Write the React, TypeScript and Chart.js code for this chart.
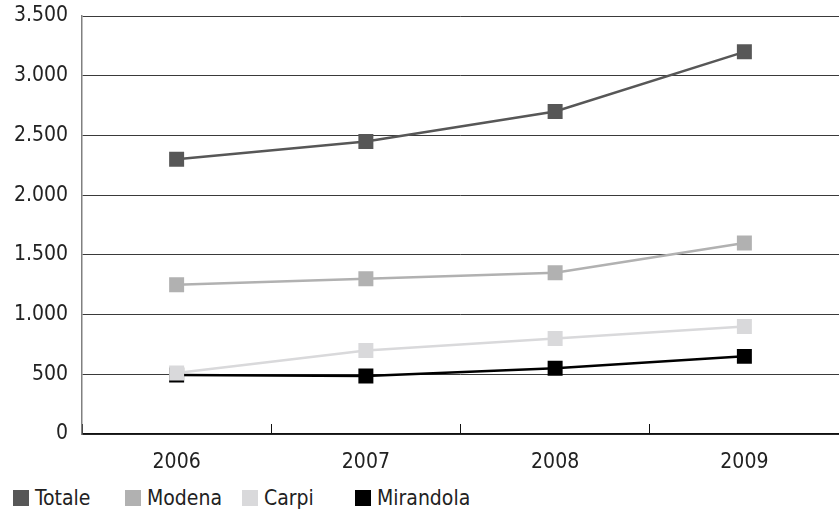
import React, { useEffect, useRef } from "react";
import { Chart, registerables } from "chart.js";

Chart.register(...registerables);

const years = ["2006", "2007", "2008", "2009"];
const totale = [2300, 2450, 2700, 3200];
const modena = [1250, 1300, 1350, 1600];
const carpi = [510, 700, 800, 900];
const mirandola = [495, 485, 550, 650];
const seriesNames = ["Totale", "Modena", "Carpi", "Mirandola"];
const seriesValues = [totale, modena, carpi, mirandola];
const seriesColors = ["#575757", "#b1b1b1", "#d9d9db", "#000000"];
const yMin = 0;
const yMax = 3500;
const yStep = 500;

const FONT = "'DejaVu Sans Condensed', 'DejaVu Sans', sans-serif";
const FSIZE = 21;
const TEXT = "#222222";
const legendLeft = [13, 125, 242, 355];

function fmt(v: number): string {
  return String(v).replace(/\B(?=(\d{3})+(?!\d))/g, ".");
}

export default function App() {
  const ref = useRef<HTMLCanvasElement | null>(null);

  useEffect(() => {
    if (!ref.current) return;
    const chart = new Chart(ref.current, {
      type: "line",
      data: {
        labels: years,
        datasets: seriesNames.map((name, i) => ({
          label: name,
          data: seriesValues[i],
          borderColor: seriesColors[i],
          backgroundColor: seriesColors[i],
          borderWidth: 2.5,
          pointStyle: "rect",
          pointRadius: 10.6,
          pointHoverRadius: 10.6,
          pointBorderWidth: 0,
          pointBackgroundColor: seriesColors[i],
          tension: 0,
          fill: false,
        })),
      },
      options: {
        animation: false,
        responsive: true,
        maintainAspectRatio: false,
        layout: { autoPadding: false, padding: { top: 16, right: -5, left: 0, bottom: 0 } },
        plugins: {
          legend: { display: false },
          tooltip: { enabled: false },
        },
        scales: {
          x: {
            type: "category",
            offset: true,
            grid: {
              display: true,
              offset: true,
              drawOnChartArea: false,
              drawTicks: true,
              tickLength: -10,
              color: "#111111",
              lineWidth: 1,
            },
            border: { display: true, color: "#111111", width: 1.5 },
            ticks: {
              color: TEXT,
              font: { family: FONT, size: FSIZE },
              padding: 26,
              maxRotation: 0,
            },
            afterFit: (s: any) => {
              s.height = 41;
              s.paddingLeft = 0;
              s.paddingRight = 0;
            },
          },
          y: {
            min: yMin,
            max: yMax,
            ticks: {
              stepSize: yStep,
              color: TEXT,
              font: { family: FONT, size: FSIZE },
              padding: 14,
              callback: (v: any) => fmt(Number(v)),
            },
            grid: {
              color: "#3a3a3a",
              lineWidth: 1,
              drawTicks: false,
            },
            border: { display: true, color: "#808080", width: 1.5 },
            afterFit: (s: any) => {
              s.width = 82;
              s.paddingTop = 0;
              s.paddingBottom = 0;
            },
          },
        },
      },
    });
    return () => chart.destroy();
  }, []);

  return (
    <div style={{ position: "absolute", left: 0, top: 0, width: 839, height: 509, background: "#fff" }}>
      <div style={{ position: "relative", width: 839, height: 475 }}>
        <canvas ref={ref} />
      </div>
      {seriesNames.map((name, i) => (
        <div
          key={name}
          style={{
            position: "absolute",
            left: legendLeft[i],
            top: 484,
            height: 28,
            display: "flex",
            alignItems: "center",
            fontFamily: FONT,
            fontSize: FSIZE,
            color: TEXT,
            whiteSpace: "nowrap",
          }}
        >
          <span style={{ display: "inline-block", width: 16, height: 16, background: seriesColors[i], marginRight: 6 }} />
          <span>{name}</span>
        </div>
      ))}
    </div>
  );
}
